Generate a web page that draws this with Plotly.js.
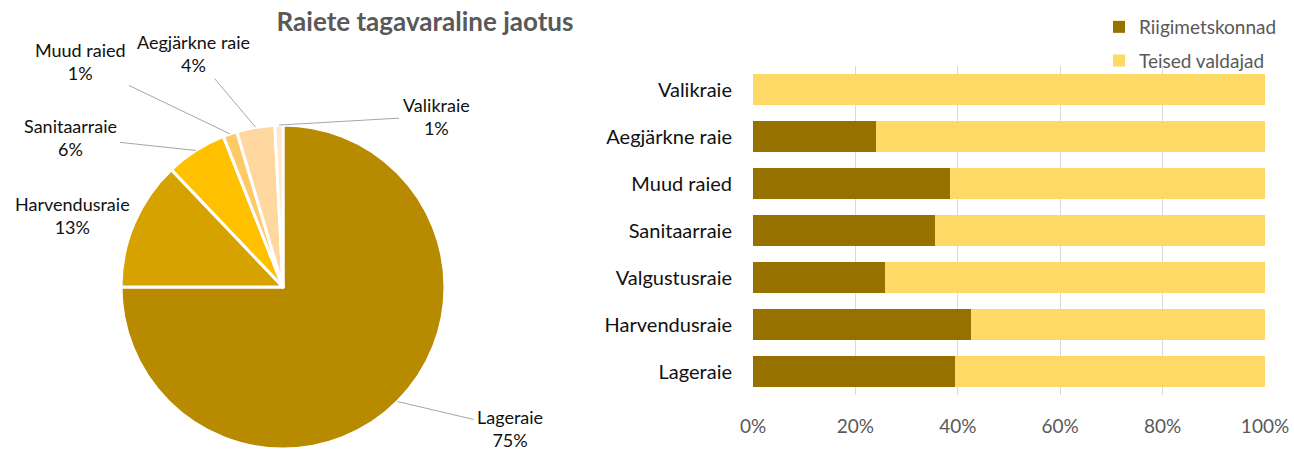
<!DOCTYPE html>
<html><head><meta charset="utf-8">
<script src="https://cdn.plot.ly/plotly-3.0.1.min.js"></script>
<style>html,body{margin:0;padding:0;background:#fff}</style>
</head><body><div id="chart" style="width:1294px;height:454px"></div>
<script>
// ---- Data ----
const pieLabels = ['Lageraie', 'Harvendusraie', 'Sanitaarraie', 'Muud raied', 'Aegjärkne raie', 'Valikraie'];
const pieValues = [75.0, 12.9, 6.1, 1.4, 3.8, 0.8];
const pieColors = ['#B88A00', '#D6A200', '#FFC000', '#FFC966', '#FFD8A0', '#FFE8CC'];

const barCategories = ['Lageraie', 'Harvendusraie', 'Valgustusraie', 'Sanitaarraie', 'Muud raied', 'Aegjärkne raie', 'Valikraie'];
const riigimetskonnad = [39.5, 42.6, 25.8, 35.5, 38.5, 24.0, 0];
const teisedValdajad = [60.5, 57.4, 74.2, 64.5, 61.5, 76.0, 100];
const xTickValues = [0, 20, 40, 60, 80, 100];
const xTickLabels = ['0%', '20%', '40%', '60%', '80%', '100%'];

// ---- Layout geometry ----
const W = 1294, H = 454;
const cx = 283, cy = 287, R = 162;
const FONT = 'Lato, sans-serif';
// label text centres (pixels) and whether a leader line is drawn
const labelPos = {
  'Lageraie': [510, 428, true],
  'Harvendusraie': [72, 215, false],
  'Sanitaarraie': [70, 137, true],
  'Muud raied': [80, 62, true],
  'Aegjärkne raie': [193, 53, true],
  'Valikraie': [436, 116, true]
};

const total = pieValues.reduce((a, b) => a + b, 0);
const annotations = [];
let cum = 0;
pieLabels.forEach((lab, i) => {
  const v = pieValues[i];
  const mid = (cum + v / 2) / total * 2 * Math.PI;
  cum += v;
  const px = cx + R * Math.sin(mid);
  const py = cy - R * Math.cos(mid);
  const [lx, ly, arrow] = labelPos[lab];
  const txt = lab + '<br>' + Math.round(v / total * 100) + '%';
  const base = {
    text: txt, xref: 'paper', yref: 'paper',
    font: {family: FONT, size: 18, color: '#111111'},
    align: 'center'
  };
  if (arrow) {
    annotations.push(Object.assign(base, {
      x: px / W, y: 1 - py / H, ax: lx - px, ay: ly - py,
      showarrow: true, arrowhead: 0, arrowwidth: 1, arrowcolor: '#A6A6A6',
      standoff: 0, startstandoff: 2
    }));
  } else {
    annotations.push(Object.assign(base, {
      x: lx / W, y: 1 - ly / H, xanchor: 'center', yanchor: 'middle', showarrow: false
    }));
  }
});

const traces = [
  {
    type: 'pie', labels: pieLabels, values: pieValues, sort: false,
    direction: 'clockwise', rotation: 0, textinfo: 'none', hoverinfo: 'skip',
    marker: {colors: pieColors, line: {color: '#ffffff', width: 3}},
    domain: {x: [(cx - R) / W, (cx + R) / W], y: [1 - (cy + R) / H, 1 - (cy - R) / H]},
    showlegend: false
  },
  {
    type: 'bar', orientation: 'h', name: 'Riigimetskonnad', y: barCategories, x: riigimetskonnad,
    marker: {color: '#977100', line: {width: 0}}, legendgroup: 'a', hoverinfo: 'skip'
  },
  {
    type: 'bar', orientation: 'h', name: 'Teised valdajad', y: barCategories, x: teisedValdajad,
    marker: {color: '#FFD966', line: {width: 0}}, legendgroup: 'b', hoverinfo: 'skip'
  }
];

const layout = {
  width: W, height: H,
  margin: {l: 0, r: 0, t: 0, b: 0},
  paper_bgcolor: '#ffffff', plot_bgcolor: '#ffffff',
  title: {
    text: '<b>Raiete tagavaraline jaotus</b>', xref: 'paper', yref: 'paper',
    x: 425 / W, xanchor: 'center', y: 1 - 22 / H, yanchor: 'middle',
    font: {family: FONT, size: 26, color: '#595959'}
  },
  barmode: 'stack', bargap: 0.32,
  xaxis: {
    domain: [753 / W, 1265 / W], range: [0, 100], tickmode: 'array',
    tickvals: xTickValues, ticktext: xTickLabels,
    showgrid: true, gridcolor: '#D9D9D9', gridwidth: 1, zeroline: false, showline: false,
    ticks: '', ticklabelstandoff: 18,
    tickfont: {family: FONT, size: 19, color: '#595959'}, fixedrange: true
  },
  yaxis: {
    domain: [1 - 395 / H, 1 - 66 / H], type: 'category', showgrid: false, zeroline: false,
    showline: false, ticks: '', ticklabelstandoff: 20,
    tickfont: {family: FONT, size: 20, color: '#111111'}, fixedrange: true
  },
  legend: {
    x: 1099 / W, y: 1 - 8 / H, xanchor: 'left', yanchor: 'top',
    traceorder: 'grouped', tracegroupgap: 6, orientation: 'v',
    font: {family: FONT, size: 19, color: '#595959'},
    itemwidth: 30, bgcolor: 'rgba(0,0,0,0)'
  },
  annotations: annotations,
  showlegend: true
};

Plotly.newPlot('chart', traces, layout, {staticPlot: true, displayModeBar: false});
</script>
</body></html>
